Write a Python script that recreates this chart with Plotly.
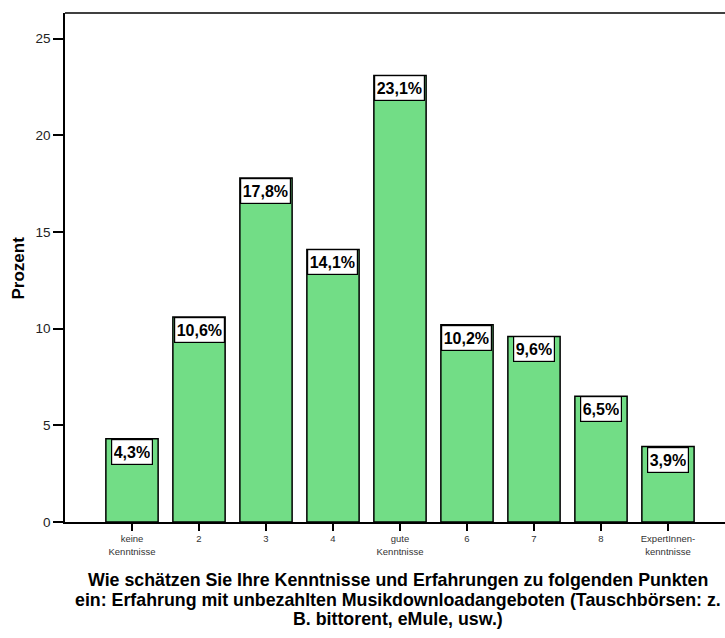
import plotly.graph_objects as go

# Category labels and percentages
categories = ["keine<br>Kenntnisse", "2", "3", "4", "gute<br>Kenntnisse",
              "6", "7", "8", "ExpertInnen-<br>kenntnisse"]
percent = [4.3, 10.6, 17.8, 14.1, 23.1, 10.2, 9.6, 6.5, 3.9]
y_ticks = [0, 5, 10, 15, 20, 25]
title_lines = [
    "Wie schätzen Sie Ihre Kenntnisse und Erfahrungen zu folgenden Punkten",
    "ein: Erfahrung mit unbezahlten Musikdownloadangeboten (Tauschbörsen: z.",
    "B. bittorent, eMule, usw.)",
]

FONT = "Arial, Liberation Sans, sans-serif"
x_idx = list(range(len(categories)))

fig = go.Figure()
fig.add_trace(go.Bar(
    x=x_idx,
    y=percent,
    width=0.78,
    marker=dict(color="rgb(114,221,134)", line=dict(color="black", width=1.5)),
    hoverinfo="skip",
))

# Value boxes at the top of each bar
for xi, v in zip(x_idx, percent):
    fig.add_annotation(
        x=xi, y=v, xref="x", yref="y",
        text="<b>" + f"{v:.1f}".replace(".", ",") + "%</b>",
        showarrow=False, xanchor="center", yanchor="top", yshift=0,
        height=21, valign="middle",
        font=dict(family=FONT, size=16, color="black"),
        bgcolor="white", bordercolor="black", borderwidth=1.2, borderpad=1.5,
    )

# Axis title below the chart, one annotation per line
for ypos, line in zip([-0.1139, -0.1532, -0.1906], title_lines):
    fig.add_annotation(
        x=0.5045, y=ypos, xref="paper", yref="paper",
        text="<b>" + line + "</b>",
        showarrow=False, xanchor="center", yanchor="middle",
        font=dict(family=FONT, size=17.8, color="black"),
    )

# Vertical axis title
fig.add_annotation(
    x=-0.0697, y=0.5, xref="paper", yref="paper",
    text="<b>Prozent</b>", textangle=-90,
    showarrow=False, xanchor="center", yanchor="middle",
    font=dict(family=FONT, size=17, color="black"),
)

# Frame line along the top
fig.add_shape(type="line", xref="paper", yref="paper", x0=0, x1=1, y0=1, y1=1,
              line=dict(color="black", width=1.5))

fig.update_layout(
    width=725, height=638,
    margin=dict(l=65, r=0, t=13, b=116),
    paper_bgcolor="white", plot_bgcolor="white",
    showlegend=False,
    font=dict(family=FONT, color="black"),
    xaxis=dict(
        range=[-1.0, 8.851],
        tickmode="array", tickvals=x_idx, ticktext=categories,
        ticks="outside", ticklen=7, tickwidth=1.5, tickcolor="black",
        tickfont=dict(size=9.5, color="#333333"),
        showline=True, linecolor="black", linewidth=1.5,
        showgrid=False, zeroline=False, fixedrange=True,
    ),
    yaxis=dict(
        range=[0, 26.33],
        tickmode="array", tickvals=y_ticks,
        ticks="outside", ticklen=10, tickwidth=1.5, tickcolor="black",
        tickfont=dict(size=13.5, color="#222222"),
        showline=True, linecolor="black", linewidth=1.5,
        showgrid=False, zeroline=False, fixedrange=True,
    ),
)

fig.write_html("out.html")
